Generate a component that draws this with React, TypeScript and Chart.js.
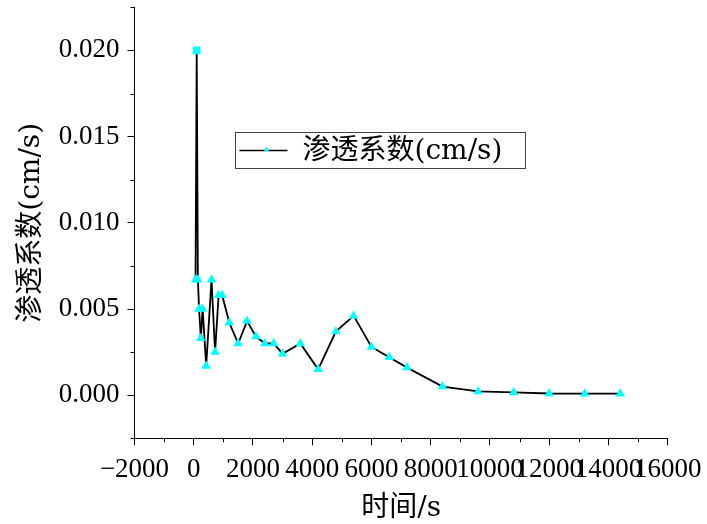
import React, { useEffect, useRef } from 'react';
import { Chart, registerables } from 'chart.js';

Chart.register(...registerables);

// time (s)
const timeS = [60, 100, 140, 180, 240, 300, 420, 600, 720, 840, 960, 1200, 1500, 1800, 2100, 2400, 2700, 3000, 3600, 4200, 4800, 5400, 6000, 6600, 7200, 8400, 9600, 10800, 12000, 13200, 14400];
// permeability coefficient (cm/s)
const permeability = [0.0067, 0.02, 0.0067, 0.005, 0.0033, 0.005, 0.0017, 0.0067, 0.0025, 0.0058, 0.0058, 0.0042, 0.003, 0.0043, 0.0034, 0.003, 0.003, 0.0024, 0.003, 0.0015, 0.0037, 0.0046, 0.0028, 0.0022, 0.0016, 0.0005, 0.00022, 0.00016, 0.0001, 0.00009, 0.00009];

const seriesLabel = '渗透系数(cm/s)';
const xTitle = '时间/s';
const yTitle = '渗透系数(cm/s)';
const xMin = -2000, xMax = 16000, xStep = 1000;
const yMin = -0.0025, yMax = 0.0225, yStep = 0.0025;

const TICK_FONT = "'Liberation Serif', 'Noto Sans CJK SC', serif";
const TITLE_FONT = "'DejaVu Serif', 'Noto Sans CJK SC', serif";
const CYAN = '#00FFFF';

const isMajorX = (v: number) => Math.round(v / xStep) % 2 === 0;
const isMajorY = (v: number) => Math.round(v / yStep) % 2 === 0;

const minorTicks = {
  id: 'minorTicks',
  afterDraw(chart: any) {
    const { ctx } = chart;
    const x = chart.scales.x;
    const y = chart.scales.y;
    ctx.save();
    ctx.strokeStyle = '#000';
    ctx.lineWidth = 1;
    ctx.beginPath();
    x.ticks.forEach((t: any) => {
      if (!isMajorX(t.value)) {
        const px = Math.round(x.getPixelForValue(t.value)) + 0.5;
        ctx.moveTo(px, x.top);
        ctx.lineTo(px, x.top + 4);
      }
    });
    y.ticks.forEach((t: any) => {
      if (!isMajorY(t.value)) {
        const py = Math.round(y.getPixelForValue(t.value)) + 0.5;
        ctx.moveTo(y.right - 4, py);
        ctx.lineTo(y.right, py);
      }
    });
    ctx.stroke();
    ctx.restore();
  },
};

const boxLegend = {
  id: 'boxLegend',
  afterDraw(chart: any) {
    const { ctx } = chart;
    const ds = chart.data.datasets[0];
    const bx = 235.5, by = 132.5, bw = 290, bh = 36;
    ctx.save();
    ctx.fillStyle = '#fff';
    ctx.fillRect(bx, by, bw, bh);
    ctx.strokeStyle = '#444';
    ctx.lineWidth = 1;
    ctx.strokeRect(bx, by, bw, bh);
    const cy = by + bh / 2;
    ctx.strokeStyle = ds.borderColor;
    ctx.lineWidth = 1.5;
    ctx.beginPath();
    ctx.moveTo(bx + 4, cy);
    ctx.lineTo(bx + 52, cy);
    ctx.stroke();
    // small marker
    const mx = bx + 31, my = cy - 1, r = 3;
    ctx.fillStyle = CYAN;
    ctx.beginPath();
    ctx.moveTo(mx, my - r);
    ctx.lineTo(mx + r * 0.866, my + r * 0.5);
    ctx.lineTo(mx - r * 0.866, my + r * 0.5);
    ctx.closePath();
    ctx.fill();
    ctx.fillStyle = '#000';
    ctx.font = `28px ${TITLE_FONT}`;
    ctx.textBaseline = 'middle';
    ctx.textAlign = 'left';
    ctx.fillText(ds.label, bx + 67, cy + 1);
    ctx.restore();
  },
};

export default function App() {
  const ref = useRef<HTMLCanvasElement | null>(null);
  useEffect(() => {
    if (!ref.current) return;
    const points = timeS.map((t, i) => ({ x: t, y: permeability[i] }));
    const styles = timeS.map((_, i) => (i === 1 ? 'rect' : 'triangle'));
    const chart = new Chart(ref.current, {
      type: 'line',
      data: {
        datasets: [
          {
            label: seriesLabel,
            data: points,
            borderColor: '#000',
            borderWidth: 1.8,
            backgroundColor: CYAN,
            pointStyle: styles as any,
            pointRadius: 5.5,
            pointBackgroundColor: CYAN,
            pointBorderColor: CYAN,
            pointBorderWidth: 0,
            tension: 0,
          },
        ],
      },
      options: {
        responsive: false,
        animation: false,
        events: [],
        layout: { padding: { left: 0, right: 39.3, top: 7.3, bottom: 0 } },
        plugins: { legend: { display: false }, tooltip: { enabled: false } },
        scales: {
          x: {
            type: 'linear',
            min: xMin,
            max: xMax,
            ticks: {
              stepSize: xStep,
              autoSkip: false,
              maxRotation: 0,
              minRotation: 0,
              color: '#000',
              padding: 8,
              font: { family: TICK_FONT, size: 27 },
              callback: (v: any) => (isMajorX(v) ? (v < 0 ? '\u2212' + Math.abs(v) : String(v)) : ''),
            },
            grid: {
              drawOnChartArea: false,
              drawTicks: true,
              tickLength: 7,
              tickWidth: 1,
              tickColor: (c: any) => (c.tick && isMajorX(c.tick.value) ? '#000' : 'rgba(0,0,0,0)'),
            },
            border: { display: true, color: '#000', width: 1 },
            title: {
              display: true,
              text: xTitle,
              color: '#000',
              font: { family: TITLE_FONT, size: 28 },
              padding: { top: 0, bottom: -2 },
            },
            afterFit: (s: any) => {
              s.height = 524 - 438.3;
              s.paddingLeft = 0;
              s.paddingRight = 0;
            },
          },
          y: {
            type: 'linear',
            min: yMin,
            max: yMax,
            ticks: {
              stepSize: yStep,
              autoSkip: false,
              color: '#000',
              padding: 8,
              font: { family: TICK_FONT, size: 27 },
              callback: (v: any) => (isMajorY(v) ? Math.abs(Number(v)) < 1e-9 ? '0.000' : Number(v).toFixed(3) : ''),
            },
            grid: {
              drawOnChartArea: false,
              drawTicks: true,
              tickLength: 7,
              tickWidth: 1,
              tickColor: (c: any) => (c.tick && isMajorY(c.tick.value) ? '#000' : 'rgba(0,0,0,0)'),
            },
            border: { display: true, color: '#000', width: 1 },
            title: {
              display: true,
              text: yTitle,
              color: '#000',
              font: { family: TITLE_FONT, size: 28 },
              padding: { top: 15, bottom: 0 },
            },
            afterFit: (s: any) => {
              s.width = 134.5;
              s.paddingTop = 0;
              s.paddingBottom = 0;
            },
          },
        },
      },
      plugins: [minorTicks, boxLegend],
    });
    return () => chart.destroy();
  }, []);
  return (
    <div style={{ position: 'fixed', left: 0, top: 0, width: 707, height: 524, background: '#fff' }}>
      <canvas ref={ref} width={707} height={524} />
    </div>
  );
}
